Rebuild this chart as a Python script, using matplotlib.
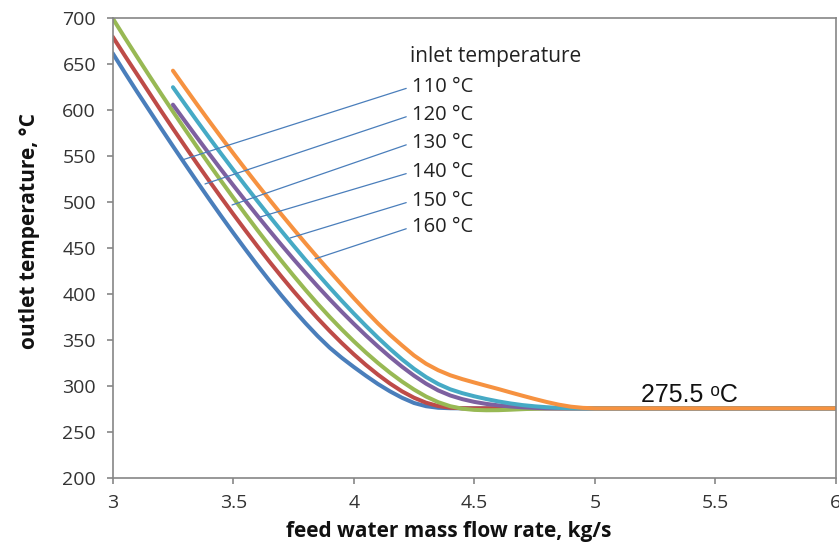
import matplotlib.pyplot as plt

# feed water mass flow rate, kg/s
flow_a = [3.00, 3.05, 3.10, 3.15, 3.20, 3.25, 3.30, 3.35, 3.40, 3.45, 3.50,
          3.55, 3.60, 3.65, 3.70, 3.75, 3.80, 3.85, 3.90, 3.95, 4.00,
          4.05, 4.10, 4.15, 4.20, 4.25, 4.30, 4.35, 4.40, 4.45, 4.50,
          4.55, 4.60, 4.65, 4.70, 4.75, 4.80, 4.85, 4.90, 4.95, 5.00,
          5.5, 6.0]
flow_b = flow_a[5:]

# outlet temperature, °C  (inlet temperature 110 ... 160 °C)
t110 = [662, 641, 620.5, 600.5, 580.5, 560.8, 541.4, 522.2, 503.3, 484.7, 466.5,
        448.7, 431.3, 414.5, 398.3, 382.8, 368.1, 354.2, 341.5, 330.5, 320.5,
        311, 302, 294, 287, 281.3, 277.8, 276.1, 275.6, 275.5, 275.5,
        275.5, 275.5, 275.5, 275.5, 275.5, 275.5, 275.5, 275.5, 275.5, 275.5,
        275.5, 275.5]
t120 = [680, 659.5, 639.5, 619.5, 599.5, 580, 560.8, 541.8, 523.2, 504.9, 486.9,
        469.3, 452, 435.2, 418.9, 403.1, 388, 373.5, 359.7, 346.6, 334.3,
        322.8, 312.2, 302.5, 294, 287, 281.6, 278, 276.2, 275.6, 275.5,
        275.5, 275.5, 275.5, 275.5, 275.5, 275.5, 275.5, 275.5, 275.5, 275.5,
        275.5, 275.5]
t130 = [700, 679, 658.5, 638.2, 618.2, 598.5, 579.1, 560, 541.3, 522.9, 504.8,
        487, 469.6, 452.6, 436, 419.9, 404.3, 389.3, 375, 361.4, 348.5,
        336.3, 324.9, 314.3, 304.6, 295.9, 288.3, 282.2, 277.8, 275.1, 273.8,
        273.4, 273.5, 274, 274.6, 275.1, 275.5, 275.5, 275.5, 275.5, 275.5,
        275.5, 275.5]
t140 = [606, 588, 570.2, 552.6, 535.3, 518.3,
        501.6, 485.2, 469.1, 453.3, 437.9, 422.9, 408.3, 394.2, 380.6, 367.5,
        354.9, 342.9, 331.5, 320.8, 311, 302.3, 295, 289.5, 285.5, 282.5,
        280.3, 278.7, 277.5, 276.6, 276, 275.6, 275.5, 275.5, 275.5, 275.5,
        275.5, 275.5]
t150 = [625, 606.5, 588.2, 570.2, 552.5, 535.1,
        518, 501.2, 484.7, 468.5, 452.6, 437, 421.8, 407, 392.6, 378.7,
        365.3, 352.4, 340.2, 328.8, 318.5, 309.5, 302, 296.2, 292, 288.6,
        285.6, 283, 280.8, 279, 277.7, 276.7, 276, 275.6, 275.5, 275.5,
        275.5, 275.5]
t160 = [643, 624.5, 606.2, 588.2, 570.5, 553.1,
        536, 519.2, 502.7, 486.5, 470.6, 455, 439.7, 424.7, 410, 395.5,
        381.5, 368, 355.5, 344, 333, 324, 317, 311.5, 307.3, 303.6,
        300, 296.5, 292.8, 289.2, 285.7, 282.4, 279.5, 277.3, 276, 275.5,
        275.5, 275.5]

series = [
    (flow_a, t110, '#4A7EBB'),
    (flow_a, t120, '#BE4B48'),
    (flow_a, t130, '#98B954'),
    (flow_b, t140, '#7D60A0'),
    (flow_b, t150, '#46AAC5'),
    (flow_b, t160, '#F69240'),
]

labels = ['110 °C', '120 °C', '130 °C', '140 °C', '150 °C', '160 °C']
# where each leader line touches its curve
leader_x = [3.288, 3.383, 3.495, 3.611, 3.736, 3.839]
leader_y = [545.8, 519.7, 496.8, 483.7, 460.9, 438.1]
label_y = [625.6, 594.8, 564.3, 532.7, 501.2, 472.9]

fig = plt.figure(figsize=(8.39, 5.48), dpi=100)
ax = fig.add_axes([0.1343, 0.1283, 0.8621, 0.8383])

for xs, ys, col in series:
    ax.plot(xs, ys, color=col, lw=2.9, solid_capstyle='round',
            solid_joinstyle='round')

for lab, lx, ly, ty in zip(labels, leader_x, leader_y, label_y):
    ax.annotate(lab, xy=(lx, ly), xytext=(4.24, ty), fontsize=14.5,
                family='Open Sans', color='#222222', ha='left', va='center',
                arrowprops=dict(arrowstyle='-', color='#4A7EBB', lw=0.9,
                                relpos=(0, 0.5), shrinkA=2, shrinkB=0))

ax.text(4.235, 657.9, 'inlet temperature', fontsize=15, family='Open Sans',
        color='#222222', ha='left', va='center')
ax.text(5.19, 282.4, '275.5 ᵒC', fontsize=18,
        family=['Liberation Sans', 'DejaVu Sans'], color='#111111',
        ha='left', va='baseline')

ax.set_xlim(3, 6)
ax.set_ylim(200, 700)
ax.set_xticks([3, 3.5, 4, 4.5, 5, 5.5, 6])
ax.set_xticklabels(['3', '3.5', '4', '4.5', '5', '5.5', '6'])
ax.set_yticks(range(200, 701, 50))

for sp in ax.spines.values():
    sp.set_color('#868686')
    sp.set_linewidth(1.2)
ax.tick_params(direction='out', length=4, width=1.2, color='#868686',
               labelsize=14, labelcolor='#333333')
ax.tick_params(axis='y', pad=8)
ax.tick_params(axis='x', pad=8)
for t in ax.get_xticklabels() + ax.get_yticklabels():
    t.set_family('Open Sans')

ax.set_xlabel('feed water mass flow rate, kg/s', fontsize=15, fontweight='bold',
              family='Open Sans', color='#111111')
ax.set_ylabel('outlet temperature, °C', fontsize=15, fontweight='bold',
              family='Open Sans', color='#111111')
ax.xaxis.set_label_coords(0.464, -0.094)
ax.yaxis.set_label_coords(-0.100, 0.537)

fig.savefig('out.png', dpi=100)
